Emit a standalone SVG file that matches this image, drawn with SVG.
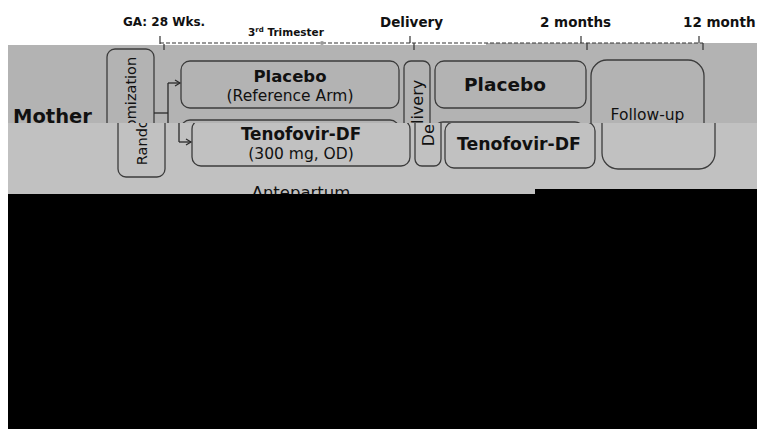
<svg xmlns="http://www.w3.org/2000/svg" width="757" height="429" viewBox="0 0 757 429">
<style>
.box{fill:none;stroke:#3c3c3c;stroke-width:1.3}
.lbl{font-family:"DejaVu Sans",Verdana,sans-serif;fill:#111;text-anchor:middle}
.b{font-weight:bold}
.tl{font-family:"DejaVu Sans",Verdana,sans-serif;font-weight:bold;fill:#111}
.conn{fill:none;stroke:#2a2a2a;stroke-width:1.3}
.tick{stroke:#333;stroke-width:1.2}
</style>
<defs>
<marker id="arr" markerWidth="8" markerHeight="8" refX="6" refY="4" orient="auto" markerUnits="userSpaceOnUse">
<path d="M1,1 L6,4 L1,7" fill="none" stroke="#2a2a2a" stroke-width="1.2"/>
</marker>
<clipPath id="clipTop"><rect x="8" y="45" width="749" height="78"/></clipPath>
<clipPath id="clipBot"><rect x="8" y="123" width="749" height="80"/></clipPath>
</defs>
<rect width="757" height="429" fill="#fff"/>
<rect x="8" y="45" width="749" height="78" fill="#b3b3b3"/>
<rect x="486" y="43" width="271" height="2" fill="#b3b3b3"/>
<rect x="8" y="123" width="749" height="72" fill="#c1c1c1"/>

<g id="timeline">
<line x1="160" y1="43" x2="703" y2="43" stroke="#333" stroke-width="1.1" stroke-dasharray="4 2"/>
<line class="tick" x1="160" y1="36" x2="160" y2="44"/>
<line class="tick" x1="164" y1="44" x2="164" y2="50"/>
<line class="tick" x1="410" y1="36" x2="410" y2="43"/>
<line class="tick" x1="414" y1="43" x2="414" y2="50"/>
<line class="tick" x1="581" y1="36" x2="581" y2="43"/>
<line class="tick" x1="587" y1="43" x2="587" y2="50"/>
<line class="tick" x1="699" y1="36" x2="699" y2="43"/>
<line class="tick" x1="703" y1="43" x2="703" y2="50"/>
<circle cx="322" cy="43" r="2" fill="#9a9a9a"/>
<text class="tl" x="123" y="26" font-size="12">GA: 28 Wks.</text>
<text class="tl" x="248" y="36" font-size="10.5">3<tspan font-size="7" dy="-4">rd</tspan><tspan dy="4"> Trimester</tspan></text>
<text class="tl" x="380" y="27" font-size="13.5">Delivery</text>
<text class="tl" x="540" y="27" font-size="13.5">2 months</text>
<text class="tl" x="683" y="27" font-size="13.5">12 month</text>
</g>

<g clip-path="url(#clipTop)">
<g id="diagram">
<g id="mother"><text class="lbl b" x="52.5" y="123" font-size="19.5">Mother</text></g>
<g id="randomization">
<rect class="box" x="107" y="49" width="47" height="128" rx="8"/>
<text class="lbl" transform="translate(131 111) rotate(-90)" y="5" font-size="14.5">Randomization</text>
</g>
<g id="placebo-ante">
<rect class="box" x="181" y="61" width="218" height="47" rx="9"/>
<text class="lbl b" x="290" y="82" font-size="16.5">Placebo</text>
<text class="lbl" x="290" y="101" font-size="15.5">(Reference Arm)</text>
</g>
<g id="tdf-ante">
<rect class="box" x="181" y="120" width="218" height="46" rx="9"/>
<text class="lbl b" x="290" y="140" font-size="16.8">Tenofovir-DF</text>
<text class="lbl" x="290" y="159" font-size="15.5">(300 mg, OD)</text>
</g>
<g id="delivery">
<rect class="box" x="404" y="61" width="26" height="105" rx="7"/>
<text class="lbl" transform="translate(417 113) rotate(-90)" y="6" font-size="16">Delivery</text>
</g>
<g id="placebo-post">
<rect class="box" x="435" y="61" width="151" height="47" rx="9"/>
<text class="lbl b" x="505" y="91" font-size="18.5">Placebo</text>
</g>
<g id="tdf-post">
<rect class="box" x="434" y="122" width="150" height="46" rx="9"/>
<text class="lbl b" x="508" y="150" font-size="17.3">Tenofovir-DF</text>
</g>
<g id="followup">
<rect class="box" x="591" y="60" width="113" height="109" rx="16"/>
<text class="lbl" x="647.5" y="120" font-size="15.5">Follow-up</text>
</g>
<g id="antepartum"><text class="lbl" x="290" y="198" font-size="16.5">Antepartum</text></g>
<g id="connectors">
<polyline class="conn" points="154,113 168,113"/>
<polyline class="conn" points="168,83 168,142"/>
<line class="conn" x1="168" y1="83" x2="180" y2="83" marker-end="url(#arr)"/>
<line class="conn" x1="168" y1="142" x2="180" y2="142" marker-end="url(#arr)"/>
</g>
</g>
</g>
<g clip-path="url(#clipBot)">
<use href="#diagram" transform="translate(11 0)"/>
</g>

<rect x="8" y="194" width="749" height="235" fill="#000"/>
<rect x="535" y="189" width="222" height="6" fill="#000"/>
</svg>
